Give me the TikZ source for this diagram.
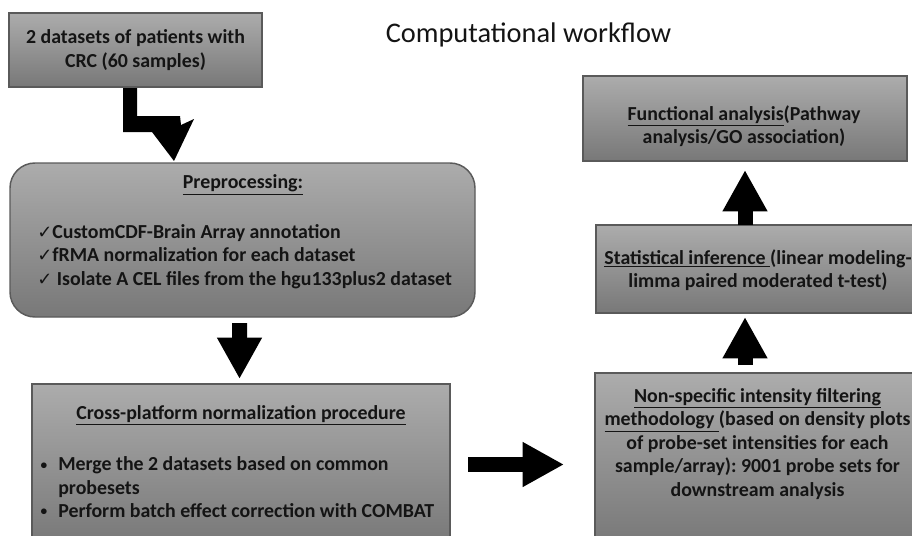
\documentclass[tikz,border=0pt]{standalone}
\usepackage{fontspec}
\setmainfont{Carlito}
\newfontfamily\dejavu{DejaVu Sans}
\usetikzlibrary{arrows.meta,calc}
\definecolor{boxtop}{RGB}{172,172,172}
\definecolor{boxbot}{RGB}{120,120,120}
\definecolor{boxline}{RGB}{90,90,90}
\definecolor{ink}{RGB}{20,20,20}
\newcommand\ckmark{{\dejavu\mdseries\fontsize{13.5}{13.5}\selectfont ✓}}
\newcommand\smbullet{\makebox[14.25pt][l]{\hspace{1pt}\raisebox{0.2ex}{\fontsize{10}{10}\selectfont\textbullet}}}
\frenchspacing
\begin{document}
\begin{tikzpicture}[x=0.75pt,y=-0.75pt,
  box/.style={draw=boxline, line width=1.1pt, top color=boxtop, bottom color=boxbot, inner sep=0pt, outer sep=0pt},
  txt/.style={font=\bfseries\fontsize{14.9}{17.6}\selectfont, text=ink, inner sep=0pt, align=center},
  blockarr/.style={draw=black, line width=11.25pt, -{Triangle[width=31.5pt,length=31pt]}}]
\useasboundingbox (0,0) rectangle (912,535);
\clip (0,0) rectangle (912,535);

\node[font=\fontsize{21.3}{25}\selectfont, text=ink, anchor=base, inner sep=0pt] (title) at (528.5,43) {Computational workflow};

\node[box, txt, minimum width=253*0.75pt, minimum height=74*0.75pt] (b1) at (135.5,50) {2 datasets of patients with\\CRC (60 samples)};

\node[box, rounded corners=18.75pt, minimum width=465*0.75pt, minimum height=154*0.75pt] (pre) at (242.5,240) {};
\node[txt] (pret) at (243,185) {\underline{Preprocessing:}};
\node[txt, align=left, anchor=west] (prei) at (37,256.5) {\ckmark CustomCDF-Brain Array annotation\\\ckmark fRMA normalization for each dataset\\\ckmark\ Isolate A CEL files from the hgu133plus2 dataset};

\node[box, minimum width=418*0.75pt, minimum height=161*0.75pt] (cross) at (241,464.5) {};
\node[txt] (crosst) at (241,415) {\underline{Cross-platform normalization procedure}};
\node[txt, align=left, anchor=west] (crossi) at (39,487.5) {\smbullet Merge the 2 datasets based on common\\\hspace*{14.25pt}probesets\\\smbullet Perform batch effect correction with COMBAT};

\node[box, minimum width=324*0.75pt, minimum height=85*0.75pt] (func) at (745,118.5) {};
\node[txt] (funct) at (744,126) {\underline{Functional analysis}(Pathway\\analysis/GO association)};

\node[box, minimum width=324*0.75pt, minimum height=88*0.75pt] (stat) at (758,269) {};
\node[txt] (statt) at (758,270) {\underline{Statistical inference\ }(linear modeling-\\limma paired moderated t-test)};

\node[box, minimum width=325*0.75pt, minimum height=172*0.75pt] (nonsp) at (757.5,459) {};
\node[txt] (nonspt) at (757.5,444) {\underline{Non-specific intensity filtering}\\\underline{methodology\ }(based on density plots\\of probe-set intensities for each\\sample/array): 9001 probe sets for\\downstream analysis};

% bent arrow from b1 to pre
\fill[black, shift={(b1.south)}] (-12.5,1) -- (1.5,1) -- (1.5,29) -- (44.5,29) -- (45.5,38) -- (58.5,32) -- (38.5,74) -- (16.5,45) -- (-12.5,45) -- cycle;

\draw[blockarr, shorten <=4.5pt, shorten >=3.75pt] ([xshift=-2.25pt]pre.south) -- ([xshift=-1.1pt]cross.north);
\draw[blockarr, shorten <=13.5pt, shorten >=23.25pt] (cross.east) -- (cross.east -| nonsp.west);
\draw[blockarr, shorten >=6.75pt] (func.south |- stat.north) -- (func.south);
\draw[blockarr, shorten <=6pt, shorten >=3pt] (func.south |- nonsp.north) -- (func.south |- stat.south);
\end{tikzpicture}
\end{document}
